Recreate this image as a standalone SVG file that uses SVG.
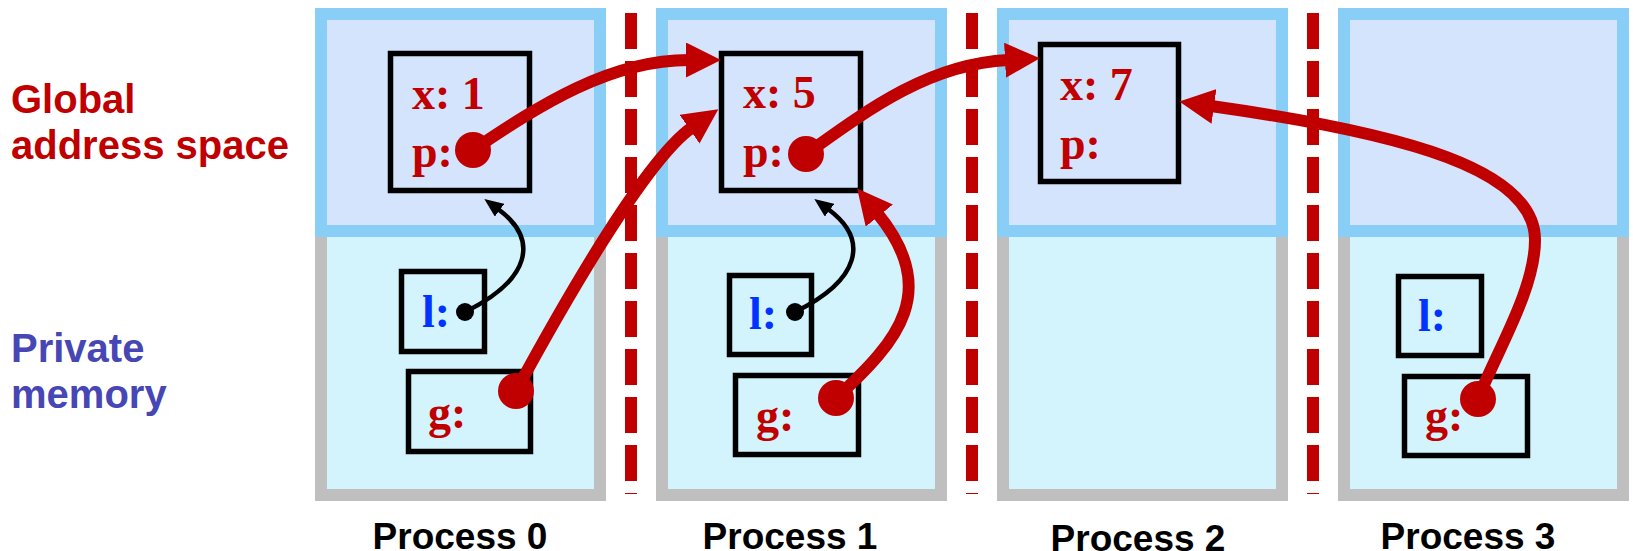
<svg xmlns="http://www.w3.org/2000/svg" width="1633" height="551" viewBox="0 0 1633 551">
<style>
.glob{fill:#D4E4FC;stroke:#88CEF6;stroke-width:12}
.priv{fill:#D3F3FD;stroke:#BFBFBF;stroke-width:12}
.cell{fill:none;stroke:#000;stroke-width:5.5}
.sep{stroke:#C00000;stroke-width:12;stroke-dasharray:36 12}
.v{font-family:"Liberation Serif","Times New Roman",serif;font-weight:bold;font-size:46px;fill:#C00000}
.lv{font-family:"Liberation Serif","Times New Roman",serif;font-weight:bold;font-size:46px;fill:#0033FF}
.pl{font-family:"Liberation Sans",Arial,sans-serif;font-weight:bold;font-size:37px;fill:#000;text-anchor:middle}
.side{font-family:"Liberation Sans",Arial,sans-serif;font-weight:bold;font-size:40px}
.rc{fill:none;stroke:#C00000;stroke-width:12}
.bc{fill:none;stroke:#000;stroke-width:4.5}
.rd{fill:#C00000}
.bd{fill:#000}
</style>
<defs>
<marker id="ra" markerUnits="userSpaceOnUse" viewBox="0 0 35 35" markerWidth="35" markerHeight="35" refX="3" refY="17.5" orient="auto">
<path d="M0,0 L35,17.5 L0,35 Z" fill="#C00000"/>
</marker>
<marker id="ba" markerUnits="userSpaceOnUse" viewBox="0 0 19 16" markerWidth="19" markerHeight="16" refX="2" refY="8" orient="auto">
<path d="M0,0 L19,8 L0,16 Z" fill="#000"/>
</marker>
</defs>
<rect width="1633" height="551" fill="#fff"/>
<g id="labels">
<text class="side" x="11" y="113" fill="#C00000">Global</text>
<text class="side" x="11" y="159" fill="#C00000">address space</text>
<text class="side" x="11" y="362" fill="#4646B4">Private</text>
<text class="side" x="11" y="408" fill="#4646B4">memory</text>
</g>
<g id="separators">
<line class="sep" x1="631" y1="13" x2="631" y2="494"/>
<line class="sep" x1="972" y1="13" x2="972" y2="494"/>
<line class="sep" x1="1313" y1="13" x2="1313" y2="494"/>
</g>
<g id="process0">
<rect class="priv" x="321" y="231" width="279" height="264"/>
<rect class="glob" x="321" y="14" width="279" height="217"/>
<text class="pl" x="460" y="549">Process 0</text>
</g>
<g id="process1">
<rect class="priv" x="662" y="231" width="279" height="264"/>
<rect class="glob" x="662" y="14" width="279" height="217"/>
<text class="pl" x="790" y="549">Process 1</text>
</g>
<g id="process2">
<rect class="priv" x="1003" y="231" width="279" height="264"/>
<rect class="glob" x="1003" y="14" width="279" height="217"/>
<text class="pl" x="1138" y="551">Process 2</text>
</g>
<g id="process3">
<rect class="priv" x="1344" y="231" width="279" height="264"/>
<rect class="glob" x="1344" y="14" width="279" height="217"/>
<text class="pl" x="1468" y="549">Process 3</text>
</g>
<g id="p0-shared">
<rect class="cell" x="390.5" y="53.5" width="139" height="137"/>
<text class="v" x="412" y="109">x: 1</text>
<text class="v" x="412" y="167">p:</text>
</g>
<g id="p0-l">
<rect class="cell" x="401.5" y="271.5" width="83" height="80"/>
<text class="lv" x="422" y="327">l:</text>
</g>
<g id="p0-g">
<rect class="cell" x="408.5" y="371.5" width="122" height="80"/>
<text class="v" x="428" y="428">g:</text>
</g>
<g id="p1-shared">
<rect class="cell" x="721.5" y="53.5" width="139" height="137"/>
<text class="v" x="743" y="108">x: 5</text>
<text class="v" x="743" y="167">p:</text>
</g>
<g id="p1-l">
<rect class="cell" x="729.5" y="275.5" width="82" height="79"/>
<text class="lv" x="749" y="329">l:</text>
</g>
<g id="p1-g">
<rect class="cell" x="735.5" y="375.5" width="123" height="79"/>
<text class="v" x="756" y="431">g:</text>
</g>
<g id="p2-shared">
<rect class="cell" x="1040.5" y="44.5" width="138" height="137"/>
<text class="v" x="1060" y="100">x: 7</text>
<text class="v" x="1060" y="159">p:</text>
</g>
<g id="p3-l">
<rect class="cell" x="1398.5" y="276.5" width="83" height="79"/>
<text class="lv" x="1418" y="331">l:</text>
</g>
<g id="p3-g">
<rect class="cell" x="1404.5" y="376.5" width="123" height="79"/>
<text class="v" x="1425" y="431">g:</text>
</g>
<g id="connectors">
<path class="bc" d="M465,312 C530,280 540,240 498,209" marker-end="url(#ba)"/>
<path class="bc" d="M795,312 C860,280 870,240 828,209" marker-end="url(#ba)"/>
<path class="rc" d="M473,150 C540,105 610,60 689,60" marker-end="url(#ra)"/>
<path class="rc" d="M516,391 C560,310 645,160 692,127.5" marker-end="url(#ra)"/>
<path class="rc" d="M806,154 C870,108 930,64 1008,60" marker-end="url(#ra)"/>
<path class="rc" d="M836,398 C900,340 940,290 877.4,213.3" marker-end="url(#ra)"/>
<path class="rc" d="M1478,399 C1496,352.5 1535,290 1535,240 C1535,170 1409,134 1211,106" marker-end="url(#ra)"/>
<circle class="bd" cx="465" cy="312" r="9"/>
<circle class="bd" cx="795" cy="312" r="9"/>
<circle class="rd" cx="473" cy="150" r="18"/>
<circle class="rd" cx="806" cy="154" r="18"/>
<circle class="rd" cx="516" cy="391" r="18"/>
<circle class="rd" cx="836" cy="398" r="18"/>
<circle class="rd" cx="1478" cy="399" r="18"/>
</g>
</svg>
